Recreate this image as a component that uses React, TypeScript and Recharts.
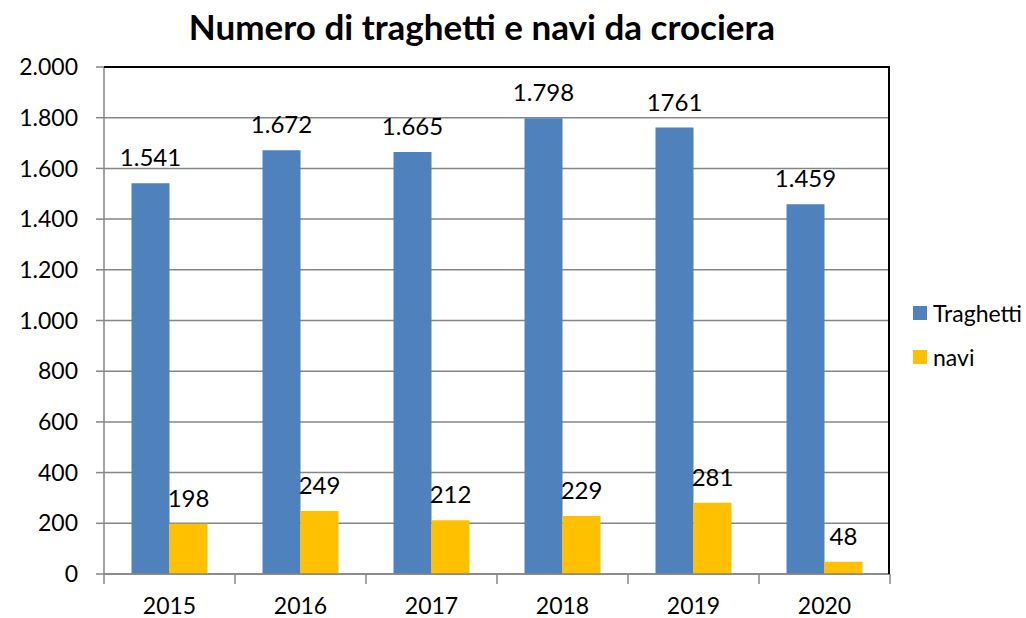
import React from "react";
import { BarChart, Bar, XAxis, YAxis, CartesianGrid, LabelList } from "recharts";

const years = ["2015", "2016", "2017", "2018", "2019", "2020"];
const traghetti = [1541, 1672, 1665, 1798, 1761, 1459];
const navi = [198, 249, 212, 229, 281, 48];
const traghettiLabels = ["1.541", "1.672", "1.665", "1.798", "1761", "1.459"];
const naviLabels = ["198", "249", "212", "229", "281", "48"];
const yTicks = [0, 200, 400, 600, 800, 1000, 1200, 1400, 1600, 1800, 2000];

const data = years.map((y, i) => ({
  year: y,
  Traghetti: traghetti[i],
  navi: navi[i],
  tl: traghettiLabels[i],
  nl: naviLabels[i],
}));

const FONT = "Lato, 'Open Sans', sans-serif";
const PLOT_LEFT = 104;
const PLOT_RIGHT = 890;
const PLOT_TOP = 67;
const PLOT_BOTTOM = 574;
const BAND = (PLOT_RIGHT - PLOT_LEFT) / years.length;

const fmtY = (v: number) => (v >= 1000 ? `${Math.floor(v / 1000)}.${String(v % 1000).padStart(3, "0")}` : String(v));

const XTick = (props: any) => {
  const { x, y, payload, index } = props;
  const left = x - BAND / 2;
  return (
    <g>
      <line x1={left} y1={y - 8} x2={left} y2={y + 2} stroke="#868686" strokeWidth={1.5} />
      {index === years.length - 1 && (
        <line x1={x + BAND / 2} y1={y - 8} x2={x + BAND / 2} y2={y + 2} stroke="#868686" strokeWidth={1.5} />
      )}
      <text x={x} y={y + 32} textAnchor="middle" fontSize={23} fill="#000" fontFamily={FONT}>
        {payload.value}
      </text>
    </g>
  );
};

export default function App() {
  return (
    <div style={{ position: "absolute", left: 0, top: 0, width: 1026, height: 618, background: "#fff" }}>
      <div
        style={{
          position: "absolute",
          left: 0,
          width: 964,
          top: 4,
          textAlign: "center",
          fontFamily: FONT,
          fontWeight: 700,
          fontSize: 35,
          color: "#000",
          lineHeight: "44px",
        }}
      >
        Numero di traghetti e navi da crociera
      </div>
      <BarChart
        width={1026}
        height={618}
        data={data}
        margin={{ top: PLOT_TOP, right: 1026 - PLOT_RIGHT, bottom: 0, left: 0 }}
        barCategoryGap="21%"
        barGap={0}
      >
        <CartesianGrid horizontal vertical={false} stroke="#868686" strokeWidth={1.5} />
        <XAxis
          dataKey="year"
          axisLine={{ stroke: "#868686", strokeWidth: 1.5 }}
          tickLine={false}
          tick={<XTick />}
          interval={0}
          height={618 - PLOT_BOTTOM}
        />
        <YAxis
          domain={[0, 2000]}
          ticks={yTicks}
          width={PLOT_LEFT}
          tickFormatter={fmtY}
          axisLine={{ stroke: "#868686", strokeWidth: 1.5 }}
          tickLine={{ stroke: "#868686", strokeWidth: 1.5 }}
          tickSize={8}
          tickMargin={18}
          tick={{ fontSize: 23, fill: "#000", fontFamily: FONT }}
        />
        <Bar dataKey="Traghetti" fill="#4F81BD" isAnimationActive={false}>
          <LabelList dataKey="tl" position="top" offset={17} fontSize={24} fill="#000" fontFamily={FONT} />
        </Bar>
        <Bar dataKey="navi" fill="#FFC000" isAnimationActive={false}>
          <LabelList dataKey="nl" position="top" offset={17} fontSize={24} fill="#000" fontFamily={FONT} />
        </Bar>
      </BarChart>
      <div
        style={{
          position: "absolute",
          left: PLOT_LEFT,
          top: PLOT_TOP - 1,
          width: PLOT_RIGHT - PLOT_LEFT,
          height: PLOT_BOTTOM - PLOT_TOP + 1,
          borderTop: "2px solid #000",
          borderRight: "2px solid #000",
          boxSizing: "border-box",
          pointerEvents: "none",
        }}
      />
      <div style={{ position: "absolute", left: 913, top: 298, fontFamily: FONT, fontSize: 23, color: "#000" }}>
        <div style={{ display: "flex", alignItems: "center", height: 30 }}>
          <span style={{ width: 14, height: 14, background: "#4F81BD", display: "inline-block", marginRight: 6 }} />
          Traghetti
        </div>
        <div style={{ display: "flex", alignItems: "center", height: 30, marginTop: 14 }}>
          <span style={{ width: 14, height: 14, background: "#FFC000", display: "inline-block", marginRight: 6 }} />
          navi
        </div>
      </div>
    </div>
  );
}
